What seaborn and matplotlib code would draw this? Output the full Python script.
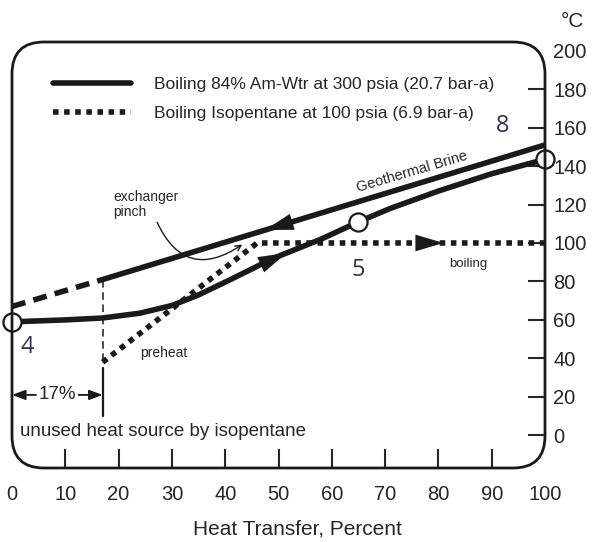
import numpy as np
import matplotlib
matplotlib.use('Agg')
import matplotlib.pyplot as plt
from matplotlib.patches import FancyBboxPatch
import seaborn as sns

# values: x = heat transfer (%), y = temperature (deg C)
brine_x = [0, 17, 100]
brine_y = [67, 81, 151]

amwtr_x = [0, 10, 17, 24, 30, 35, 41, 49, 58, 65, 71, 80, 90, 100]
amwtr_y = [59, 60, 61, 63.5, 67.5, 73, 81, 92, 102, 111, 118, 127, 136, 143.5]

iso_x = [17, 46, 100]
iso_y = [38, 100, 100]

state_x = [0, 65, 100]
state_y = [59, 111, 143.5]
state_labels = ['4', '5', '8']

unused_pct = 17

x_ticks = list(range(0, 101, 10))
y_ticks = list(range(0, 201, 20))

legend_labels = ['Boiling 84% Am-Wtr at 300 psia (20.7 bar-a)',
                 'Boiling Isopentane at 100 psia (6.9 bar-a)']

sns.set_theme(style='white')
plt.rcParams['font.family'] = ['Liberation Sans', 'DejaVu Sans']

fig = plt.figure(figsize=(5.97, 5.42), dpi=100)
ax = fig.add_axes([12 / 597, 74 / 542, 533 / 597, 426 / 542])

# brine: unused part dashed, rest solid
sns.lineplot(x=brine_x[:2], y=brine_y[:2], ax=ax, color='k', lw=4,
             linestyle=(0, (2.5, 1.5)), legend=False)
sns.lineplot(x=brine_x[1:], y=brine_y[1:], ax=ax, color='k', lw=4, legend=False)
sns.lineplot(x=amwtr_x, y=amwtr_y, ax=ax, color='k', lw=4, legend=False)
h_amwtr = ax.lines[-1]
sns.lineplot(x=iso_x, y=iso_y, ax=ax, color='k', lw=4,
             linestyle=(0, (1, 1)), legend=False)
h_iso = ax.lines[-1]

sns.scatterplot(x=state_x, y=state_y, ax=ax, s=170, color='white',
                edgecolor='k', linewidth=1.6, zorder=5, legend=False)
ax.collections[-1].set_clip_on(False)

# flow direction arrowheads
def head(xs, ys, x0, x1):
    ax.annotate('', xy=(x1, np.interp(x1, xs, ys)),
                xytext=(x0, np.interp(x0, xs, ys)),
                arrowprops=dict(arrowstyle='-|>,head_length=1.7,head_width=0.5',
                                mutation_scale=12, color='k', lw=0,
                                shrinkA=0, shrinkB=0), zorder=4)

head(brine_x, brine_y, 53, 47.5)
head(amwtr_x, amwtr_y, 46, 51.5)
head(iso_x, iso_y, 75, 81)

# unused heat marker
ax.plot([unused_pct, unused_pct], [brine_y[1], iso_y[0]], color='k', lw=1.1,
        linestyle=(0, (5, 3)))
ax.plot([unused_pct, unused_pct], [35, 10], color='k', lw=1.6)
for a, b in [(4.5, 0), (12.5, unused_pct)]:
    ax.annotate('', xy=(b, 21), xytext=(a, 21),
                arrowprops=dict(arrowstyle='-|>,head_length=0.8,head_width=0.3',
                                mutation_scale=10, color='k', lw=1.3,
                                shrinkA=0, shrinkB=0))
ax.text(8.5, 21, '17%', ha='center', va='center', fontsize=13.5)
ax.text(1.5, 2, 'unused heat source by isopentane', ha='left', va='center',
        fontsize=13.5)

# annotations
ax.text(75, 137, 'Geothermal Brine', fontsize=10.5, ha='center', va='center',
        rotation=16.5)
ax.annotate('exchanger\npinch', xy=(43.2, 99.2), xytext=(19, 120),
            fontsize=10, ha='left', va='center', linespacing=1.1,
            arrowprops=dict(arrowstyle='->', color='k', lw=1,
                            connectionstyle='arc3,rad=0.6',
                            shrinkA=0, shrinkB=0, relpos=(0.65, 0)))
ax.text(82, 89, 'boiling', fontsize=9.5, ha='left', va='center')
ax.text(24, 43, 'preheat', fontsize=10, ha='left', va='center')

for (sx, sy), lab in zip([(2.8, 46), (65, 86), (92, 161)], state_labels):
    ax.text(sx, sy, lab, fontsize=17, ha='center', va='center',
            color='#2e3352', family=['Open Sans', 'DejaVu Sans'])

ax.legend([h_amwtr, h_iso], legend_labels, loc='upper left',
          bbox_to_anchor=(0.077, 0.918), frameon=False, fontsize=12.5,
          handlelength=4.5, handletextpad=1.3, labelspacing=0.8,
          borderpad=0, borderaxespad=0)

ax.set_xlim(0, 100)
ax.set_ylim(-17, 204.5)
ax.set_xticks(x_ticks)
ax.set_yticks(y_ticks)
ax.yaxis.tick_right()
ax.tick_params(axis='x', direction='in', length=14, width=1.5, pad=12,
               labelsize=14.5, bottom=True)
ax.tick_params(axis='y', direction='in', length=12, width=1.5, pad=6,
               labelsize=14.5, right=True, left=False)
for t in [ax.xaxis.get_major_ticks()[0], ax.xaxis.get_major_ticks()[-1]]:
    t.tick1line.set_visible(False)
ax.yaxis.get_major_ticks()[-1].tick2line.set_visible(False)

for s in ax.spines.values():
    s.set_visible(False)
ax.add_patch(FancyBboxPatch((0, 0), 1, 1, transform=ax.transAxes,
                            boxstyle='round,pad=0,rounding_size=0.06',
                            mutation_aspect=533 / 426, fill=False,
                            edgecolor='k', lw=2, clip_on=False, zorder=6))

ax.set_xlabel('Heat Transfer, Percent', fontsize=15)
ax.xaxis.set_label_coords(0.535, -0.12)
ax.set_ylabel('°C', fontsize=15, rotation=0)
ax.yaxis.set_label_position('right')
ax.yaxis.set_label_coords(1.052, 1.07)

fig.savefig('out.png', dpi=100)
